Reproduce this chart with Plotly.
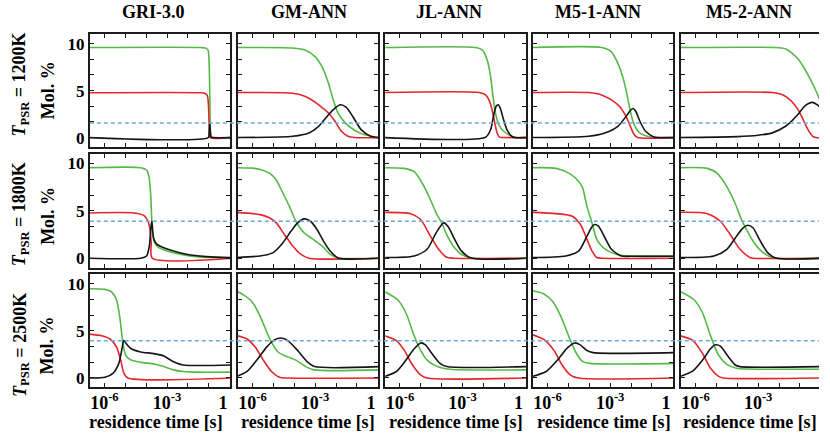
import numpy as np
import plotly.graph_objects as go

# Perfectly-stirred-reactor species profiles, mole percent versus
# log10(residence time / s).  Each curve is a list of (log10 t, mol %) points.

# ---------------- T_PSR = 1200 K ----------------
GRI_1200_O2 = [(-6.75, 9.58), (-1.4, 9.58), (-1.15, 9.52), (-1.04, 9.3), (-0.99, 8.0), (-0.96, 5.0), (-0.94, 2.0), (-0.91, 0.2), (-0.85, 0.0), (0.1, 0.0)]
GRI_1200_CH4 = [(-6.75, 4.77), (-1.4, 4.77), (-1.18, 4.7), (-1.08, 4.5), (-1.03, 3.8), (-1.0, 2.2), (-0.97, 0.6), (-0.93, 0.0), (0.1, 0.0)]
GRI_1200_CO = [(-6.75, 0.0), (-1.03, 0.0), (-0.99, 0.5), (-0.96, 1.6), (-0.93, 0.6), (-0.89, 0.05), (-0.8, 0.0), (0.1, 0.0)]

GM_1200_O2 = [(-6.75, 9.58), (-4.07, 9.54), (-3.46, 9.3), (-2.99, 8.59), (-2.67, 7.54), (-2.36, 5.77), (-2.13, 4.01), (-1.9, 2.61), (-1.58, 1.62), (-1.27, 1.02), (-0.8, 0.42), (-0.34, 0.14), (0.0, 0.0), (0.1, 0.0)]
GM_1200_CH4 = [(-6.75, 4.79), (-4.07, 4.72), (-3.46, 4.37), (-2.83, 3.49), (-2.36, 2.61), (-2.05, 1.73), (-1.74, 0.67), (-1.43, 0.14), (-1.12, 0.0), (0.1, 0.0)]
GM_1200_CO = [(-6.75, 0.0), (-4.07, 0.14), (-3.3, 0.49), (-2.83, 1.2), (-2.36, 2.43), (-2.05, 3.13), (-1.79, 3.49), (-1.52, 3.24), (-1.2, 2.25), (-0.8, 0.85), (-0.34, 0.14), (0.0, 0.0), (0.1, 0.0)]

JL_1200_O2 = [(-6.75, 9.58), (-2.36, 9.58), (-2.05, 9.3), (-1.82, 8.24), (-1.66, 6.48), (-1.55, 4.4), (-1.43, 2.61), (-1.27, 1.37), (-1.04, 0.67), (-0.73, 0.21), (-0.49, 0.0), (0.1, 0.0)]
JL_1200_CH4 = [(-6.75, 4.79), (-2.21, 4.79), (-1.9, 4.54), (-1.74, 4.01), (-1.59, 2.96), (-1.46, 1.55), (-1.35, 0.49), (-1.24, 0.04), (-1.1, 0.0), (0.1, 0.0)]
JL_1200_CO = [(-6.75, 0.0), (-1.9, 0.04), (-1.66, 0.85), (-1.51, 2.43), (-1.4, 3.31), (-1.3, 3.49), (-1.2, 3.13), (-1.04, 1.9), (-0.88, 0.85), (-0.65, 0.14), (-0.49, 0.0), (0.1, 0.0)]

M51_1200_O2 = [(-6.75, 9.58), (-3.41, 9.58), (-2.94, 9.12), (-2.63, 7.89), (-2.4, 6.48), (-2.24, 5.07), (-2.08, 3.31), (-1.93, 1.9), (-1.77, 1.02), (-1.54, 0.42), (-1.22, 0.14), (-0.91, 0.0), (0.1, 0.0)]
M51_1200_CH4 = [(-6.75, 4.79), (-4.03, 4.79), (-3.41, 4.54), (-2.94, 4.01), (-2.55, 3.31), (-2.24, 2.25), (-2.0, 1.02), (-1.85, 0.32), (-1.69, 0.0), (0.1, 0.0)]
M51_1200_CO = [(-6.75, 0.0), (-4.03, 0.14), (-3.25, 0.49), (-2.63, 1.2), (-2.24, 2.25), (-2.0, 2.96), (-1.9, 3.1), (-1.77, 2.78), (-1.54, 1.55), (-1.3, 0.67), (-0.91, 0.07), (-0.6, 0.0), (0.1, 0.0)]

M52_1200_O2 = [(-6.75, 9.58), (-2.2, 9.58), (-1.7, 9.45), (-1.38, 9.0), (-1.07, 8.3), (-0.8, 7.4), (-0.55, 6.4), (-0.3, 5.3), (-0.14, 4.5), (0.1, 3.0)]
M52_1200_CH4 = [(-6.75, 4.79), (-2.3, 4.79), (-1.9, 4.6), (-1.6, 4.25), (-1.3, 3.6), (-1.1, 3.0), (-0.92, 2.25), (-0.72, 1.3), (-0.55, 0.6), (-0.4, 0.15), (-0.25, 0.0), (0.1, 0.0)]
M52_1200_CO = [(-6.75, 0.0), (-4.0, 0.1), (-3.0, 0.25), (-2.32, 0.5), (-1.69, 1.2), (-1.4, 1.75), (-1.1, 2.45), (-0.76, 3.38), (-0.4, 3.75), (-0.15, 3.45), (0.1, 2.9)]

# ---------------- T_PSR = 1800 K ----------------
GRI_1800_O2 = [(-6.75, 9.55), (-4.26, 9.55), (-3.98, 9.3), (-3.87, 8.6), (-3.79, 6.86), (-3.74, 4.43), (-3.7, 2.68), (-3.6, 1.64), (-3.4, 1.11), (-3.01, 0.77), (-2.39, 0.42), (-1.61, 0.17), (-0.05, 0.03), (0.1, 0.03)]
GRI_1800_CH4 = [(-6.75, 4.77), (-4.57, 4.77), (-4.1, 4.49), (-3.91, 3.9), (-3.82, 3.03), (-3.76, 1.64), (-3.71, 0.0), (0.1, 0.0)]
GRI_1800_CO = [(-6.75, 0.0), (-4.26, 0.0), (-3.98, 0.24), (-3.85, 1.29), (-3.77, 3.38), (-3.73, 3.9), (-3.68, 2.68), (-3.63, 1.99), (-3.48, 1.46), (-3.16, 1.11), (-2.7, 0.77), (-2.07, 0.42), (-1.14, 0.17), (-0.05, 0.07), (0.1, 0.07)]

GM_1800_O2 = [(-6.75, 9.55), (-6.0, 9.5), (-5.63, 9.37), (-5.17, 8.95), (-4.86, 8.26), (-4.54, 6.86), (-4.23, 5.47), (-3.92, 3.9), (-3.53, 2.68), (-3.14, 2.06), (-2.67, 1.29), (-2.28, 0.42), (-1.9, 0.03), (0.1, 0.0)]
GM_1800_CH4 = [(-6.75, 4.84), (-5.63, 4.6), (-5.17, 4.25), (-4.86, 3.73), (-4.47, 2.51), (-4.07, 1.29), (-3.69, 0.42), (-3.3, 0.0), (0.1, 0.0)]
GM_1800_CO = [(-6.75, 0.07), (-5.63, 0.24), (-5.01, 0.59), (-4.54, 1.64), (-4.15, 2.86), (-3.84, 3.73), (-3.53, 4.15), (-3.22, 3.9), (-2.91, 3.03), (-2.6, 1.81), (-2.28, 0.77), (-1.9, 0.03), (0.1, 0.0)]

JL_1800_O2 = [(-6.75, 9.55), (-5.79, 9.48), (-5.32, 9.13), (-4.93, 7.91), (-4.54, 6.17), (-4.23, 4.6), (-4.0, 3.73), (-3.77, 2.51), (-3.45, 1.29), (-3.06, 0.42), (-2.6, 0.03), (0.1, 0.0)]
JL_1800_CH4 = [(-6.75, 4.84), (-5.48, 4.7), (-5.01, 4.08), (-4.54, 2.33), (-4.15, 0.94), (-3.77, 0.1), (-3.45, 0.0), (0.1, 0.0)]
JL_1800_CO = [(-6.75, 0.07), (-5.32, 0.24), (-4.7, 0.94), (-4.31, 2.51), (-4.0, 3.55), (-3.89, 3.73), (-3.69, 3.31), (-3.38, 1.99), (-3.06, 0.77), (-2.6, 0.03), (0.1, 0.0)]

M51_1800_O2 = [(-6.75, 9.55), (-5.59, 9.48), (-4.96, 8.95), (-4.65, 8.43), (-4.34, 7.56), (-4.11, 5.47), (-3.87, 3.73), (-3.64, 1.99), (-3.33, 1.11), (-2.94, 0.59), (-2.47, 0.31), (-2.0, 0.24), (0.1, 0.24)]
M51_1800_CH4 = [(-6.75, 4.84), (-5.59, 4.7), (-4.81, 4.43), (-4.42, 3.55), (-4.11, 1.99), (-3.87, 0.77), (-3.64, 0.07), (-3.4, 0.0), (0.1, 0.0)]
M51_1800_CO = [(-6.75, 0.07), (-5.12, 0.24), (-4.5, 0.77), (-4.11, 2.33), (-3.87, 3.31), (-3.75, 3.55), (-3.56, 3.38), (-3.25, 2.16), (-2.94, 0.94), (-2.47, 0.24), (-2.0, 0.2), (0.1, 0.2)]

M52_1800_O2 = [(-6.75, 9.55), (-5.43, 9.48), (-4.96, 8.95), (-4.5, 7.56), (-4.11, 5.82), (-3.8, 4.08), (-3.56, 3.03), (-3.25, 1.81), (-2.86, 0.77), (-2.32, 0.07), (0.1, 0.0)]
M52_1800_CH4 = [(-6.75, 4.84), (-5.43, 4.7), (-4.81, 3.9), (-4.34, 2.51), (-3.87, 0.94), (-3.4, 0.07), (-3.25, 0.0), (0.1, 0.0)]
M52_1800_CO = [(-6.75, 0.07), (-5.12, 0.24), (-4.5, 0.94), (-4.03, 2.33), (-3.72, 3.21), (-3.49, 3.48), (-3.25, 3.21), (-2.94, 1.99), (-2.55, 0.59), (-2.16, 0.03), (0.1, 0.0)]

# ---------------- T_PSR = 2500 K ----------------
GRI_2500_O2 = [(-6.75, 9.48), (-5.97, 9.41), (-5.66, 9.14), (-5.42, 8.28), (-5.27, 6.55), (-5.16, 4.48), (-5.07, 3.1), (-4.96, 2.34), (-4.72, 1.9), (-4.26, 1.66), (-3.63, 1.48), (-3.16, 1.21), (-2.7, 0.86), (-2.23, 0.69), (-1.61, 0.62), (0.1, 0.62)]
GRI_2500_CH4 = [(-6.75, 4.66), (-6.13, 4.48), (-5.73, 4.14), (-5.42, 3.28), (-5.22, 1.9), (-5.07, 0.52), (-4.88, 0.0), (0.1, 0.0)]
GRI_2500_CO = [(-6.75, 0.0), (-5.97, 0.07), (-5.58, 0.52), (-5.31, 1.55), (-5.16, 3.1), (-5.07, 3.97), (-4.91, 3.52), (-4.72, 3.1), (-4.26, 2.76), (-3.63, 2.59), (-3.16, 2.34), (-2.7, 1.72), (-2.23, 1.38), (0.1, 1.38)]

GM_2500_O2 = [(-6.75, 9.2), (-6.41, 8.79), (-6.02, 8.1), (-5.63, 6.55), (-5.17, 4.14), (-4.78, 2.76), (-4.31, 2.24), (-3.92, 1.9), (-3.45, 1.21), (-3.06, 0.86), (0.1, 0.86)]
GM_2500_CH4 = [(-6.75, 4.5), (-6.26, 4.14), (-5.87, 3.28), (-5.48, 1.9), (-5.09, 0.69), (-4.7, 0.07), (-4.3, 0.0), (0.1, 0.0)]
GM_2500_CO = [(-6.75, 0.15), (-6.26, 0.69), (-5.79, 1.9), (-5.32, 3.28), (-4.93, 4.07), (-4.62, 4.24), (-4.31, 3.97), (-3.84, 2.93), (-3.37, 1.72), (-3.02, 1.21), (0.1, 1.21)]

JL_2500_O2 = [(-6.75, 9.2), (-6.1, 8.28), (-5.71, 6.9), (-5.32, 4.48), (-5.01, 2.93), (-4.7, 1.9), (-4.31, 1.31), (-3.92, 1.03), (-3.5, 0.9), (0.1, 0.86)]
JL_2500_CH4 = [(-6.75, 4.5), (-6.17, 3.97), (-5.79, 2.93), (-5.4, 1.38), (-5.01, 0.34), (-4.7, 0.0), (0.1, 0.0)]
JL_2500_CO = [(-6.75, 0.15), (-6.17, 0.69), (-5.71, 1.9), (-5.32, 3.1), (-5.01, 3.72), (-4.78, 3.52), (-4.47, 2.59), (-4.08, 1.55), (-3.76, 1.21), (0.1, 1.21)]

M51_2500_O2 = [(-6.75, 9.27), (-6.21, 8.97), (-5.74, 8.1), (-5.36, 6.55), (-4.96, 4.31), (-4.65, 2.76), (-4.34, 1.79), (-3.95, 1.55), (0.1, 1.55)]
M51_2500_CH4 = [(-6.75, 4.62), (-6.16, 4.07), (-5.69, 2.93), (-5.3, 1.38), (-4.92, 0.34), (-4.53, 0.0), (0.1, 0.0)]
M51_2500_CO = [(-6.75, 0.15), (-6.06, 0.69), (-5.52, 1.9), (-5.06, 3.17), (-4.7, 3.72), (-4.43, 3.52), (-4.12, 2.93), (-3.81, 2.69), (0.1, 2.69)]

M52_2500_O2 = [(-6.75, 9.2), (-6.06, 8.28), (-5.66, 6.9), (-5.28, 4.48), (-4.89, 2.41), (-4.5, 1.45), (-4.03, 1.03), (-3.5, 0.95), (0.1, 0.93)]
M52_2500_CH4 = [(-6.75, 4.5), (-6.12, 3.97), (-5.66, 2.59), (-5.28, 1.03), (-4.89, 0.17), (-4.66, 0.0), (0.1, 0.0)]
M52_2500_CO = [(-6.75, 0.15), (-6.12, 0.76), (-5.66, 1.9), (-5.28, 3.1), (-5.04, 3.52), (-4.81, 3.38), (-4.42, 2.24), (-4.1, 1.38), (-3.87, 1.21), (0.1, 1.21)]

# ---------------- labels, ticks, reference lines ----------------
MODELS = ["GRI-3.0", "GM-ANN", "JL-ANN", "M5-1-ANN", "M5-2-ANN"]
TEMPERATURES = ["1200K", "1800K", "2500K"]
REFERENCE_LEVEL = [1.55, 3.9, 3.95]  # dashed horizontal line in each row

Y_TICKS = [0, 1.667, 3.333, 5, 6.667, 8.333, 10]
Y_TICK_TEXT = ["0", "", "", "5", "", "", "10"]
X_TICKS = [1e-6, 1e-5, 1e-4, 1e-3, 1e-2, 1e-1, 1]
X_TICK_TEXT = ["10<sup>-6</sup>", "", "", "10<sup>-3</sup>", "", "", "1\u00a0\u00a0\u00a0"]

PANELS = [
    [(GRI_1200_O2, GRI_1200_CH4, GRI_1200_CO), (GM_1200_O2, GM_1200_CH4, GM_1200_CO),
     (JL_1200_O2, JL_1200_CH4, JL_1200_CO), (M51_1200_O2, M51_1200_CH4, M51_1200_CO),
     (M52_1200_O2, M52_1200_CH4, M52_1200_CO)],
    [(GRI_1800_O2, GRI_1800_CH4, GRI_1800_CO), (GM_1800_O2, GM_1800_CH4, GM_1800_CO),
     (JL_1800_O2, JL_1800_CH4, JL_1800_CO), (M51_1800_O2, M51_1800_CH4, M51_1800_CO),
     (M52_1800_O2, M52_1800_CH4, M52_1800_CO)],
    [(GRI_2500_O2, GRI_2500_CH4, GRI_2500_CO), (GM_2500_O2, GM_2500_CH4, GM_2500_CO),
     (JL_2500_O2, JL_2500_CH4, JL_2500_CO), (M51_2500_O2, M51_2500_CH4, M51_2500_CO),
     (M52_2500_O2, M52_2500_CH4, M52_2500_CO)],
]

SPECIES_COLORS = ["#55b947", "#e3262b", "#151515"]  # O2, CH4, CO

# ---------------- page geometry (pixels) ----------------
W, H = 830, 435
COL_LEFT = [91, 241, 390.5, 540, 690]
COL_WIDTH = 142.5
ROW_SPAN = [(34.3, 147.3), (154.3, 268.3), (275.0, 388.3)]
LOG_LEFT = -6.70
PX_PER_DECADE = COL_WIDTH / 6.73
Y_RANGE = [-1.0, 11.0]

FONT = "Liberation Serif"
INK = "#1c1c1c"


def px_x(p):
    return p / W


def px_y(p):
    return 1 - p / H


fig = go.Figure()
layout = dict(
    width=W, height=H, autosize=False,
    margin=dict(l=0, r=0, t=0, b=0),
    paper_bgcolor="white", plot_bgcolor="white",
    showlegend=False,
    font=dict(family=FONT, color="black"),
)

shapes = []
annotations = []

for r in range(3):
    for c in range(5):
        k = r * 5 + c + 1
        xname = "xaxis" if k == 1 else f"xaxis{k}"
        yname = "yaxis" if k == 1 else f"yaxis{k}"
        xref = "x" if k == 1 else f"x{k}"
        yref = "y" if k == 1 else f"y{k}"

        left = COL_LEFT[c]
        right = min(left + COL_WIDTH, W)
        log_right = LOG_LEFT + (right - left) / PX_PER_DECADE
        last_col = right >= W  # this column runs off the right page edge

        top, bottom = ROW_SPAN[r]

        layout[xname] = dict(
            type="log", domain=[px_x(left), px_x(right)], range=[LOG_LEFT, log_right],
            anchor=yref, showgrid=False, zeroline=False,
            showline=True, linecolor=INK, linewidth=2, mirror="allticks",
            ticks="inside", ticklen=4, tickwidth=1.3, tickcolor=INK,
            tickmode="array", tickvals=X_TICKS, ticktext=X_TICK_TEXT,
            showticklabels=(r == 2), ticklabelstandoff=-2,
            tickfont=dict(family=FONT, size=18, color="black", weight="bold"),
        )
        layout[yname] = dict(
            domain=[px_y(bottom), px_y(top)], range=Y_RANGE,
            anchor=xref, showgrid=False, zeroline=False,
            showline=True, linecolor=INK, linewidth=2,
            mirror=False if last_col else "allticks",
            ticks="inside", ticklen=4, tickwidth=1.3, tickcolor=INK,
            tickmode="array", tickvals=Y_TICKS, ticktext=Y_TICK_TEXT,
            showticklabels=(c == 0),
            tickfont=dict(family=FONT, size=17, color="black", weight="bold"),
        )

        for curve, color in zip(PANELS[r][c], SPECIES_COLORS):
            logt = np.array([p[0] for p in curve])
            frac = np.array([p[1] for p in curve])
            fig.add_trace(go.Scatter(
                x=10 ** logt, y=frac, mode="lines",
                line=dict(color=color, width=1.6, shape="spline", smoothing=0.7),
                xaxis=xref, yaxis=yref, hoverinfo="skip",
            ))

    # dashed reference level spanning the whole row
    first_y = "y" if r == 0 else f"y{r * 5 + 1}"
    shapes.append(dict(
        type="line", xref="paper", yref=first_y,
        x0=px_x(COL_LEFT[0]), x1=1.0, y0=REFERENCE_LEVEL[r], y1=REFERENCE_LEVEL[r],
        line=dict(color="#6aaad8", width=1.5, dash="4px,3px"), layer="above",
    ))

# column titles
TITLE_X = [156, 313, 455.5, 606, 759]
for name, xp in zip(MODELS, TITLE_X):
    annotations.append(dict(
        text=f"<b>{name}</b>", x=px_x(xp), y=px_y(12.5), xref="paper", yref="paper",
        xanchor="center", yanchor="middle", showarrow=False,
        font=dict(family=FONT, size=18, color="black"),
    ))

# row labels
T_LABEL_Y = [85, 215, 346]
MOL_LABEL_Y = [90, 216, 346]
for temp, ty, my in zip(TEMPERATURES, T_LABEL_Y, MOL_LABEL_Y):
    annotations.append(dict(
        text=f"<b><i>T</i><sub>PSR</sub> = {temp}</b>", x=px_x(21), y=px_y(ty),
        xref="paper", yref="paper", xanchor="center", yanchor="middle",
        textangle=-90, showarrow=False,
        font=dict(family=FONT, size=18, color="black"),
    ))
    annotations.append(dict(
        text="<b>Mol. %</b>", x=px_x(48), y=px_y(my),
        xref="paper", yref="paper", xanchor="center", yanchor="middle",
        textangle=-90, showarrow=False,
        font=dict(family=FONT, size=18, color="black"),
    ))

# x-axis titles under the bottom row
XTITLE_X = [158.5, 311.7, 461.7, 611.7, 760.5]
for xp in XTITLE_X:
    annotations.append(dict(
        text="<b>residence time [s]</b>", x=px_x(xp), y=px_y(423),
        xref="paper", yref="paper", xanchor="center", yanchor="middle",
        showarrow=False, font=dict(family=FONT, size=18, color="black"),
    ))

# figure number, mostly above the page edge
annotations.append(dict(
    text="<b>6.2</b>", x=px_x(49.5), y=px_y(-8.5), xref="paper", yref="paper",
    xanchor="center", yanchor="middle", showarrow=False,
    font=dict(family=FONT, size=26, color="black"),
))

layout["shapes"] = shapes
layout["annotations"] = annotations
fig.update_layout(**layout)
fig.write_html("out.html")
